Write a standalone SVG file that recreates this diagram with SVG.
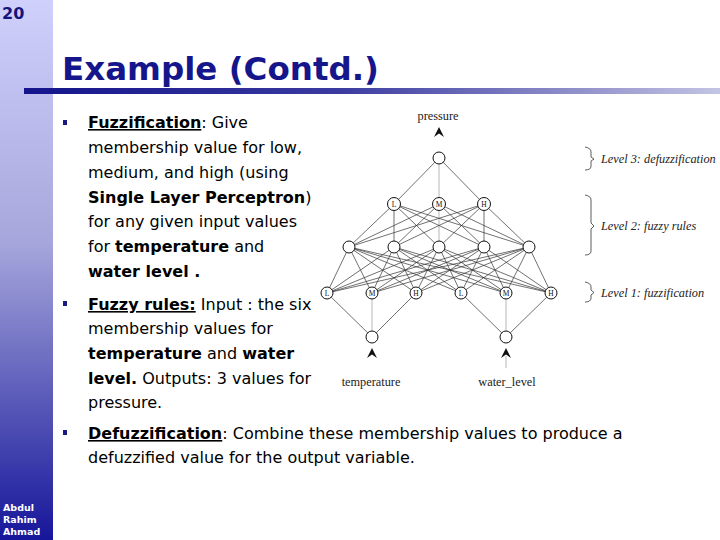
<svg xmlns="http://www.w3.org/2000/svg" width="720" height="540" viewBox="0 0 720 540">
<defs>
<linearGradient id="side" x1="0" y1="0" x2="0" y2="1">
<stop offset="0" stop-color="#d0d0fc"/>
<stop offset="0.45" stop-color="#a6a6dc"/>
<stop offset="1" stop-color="#16169a"/>
</linearGradient>
<linearGradient id="rule" x1="0" y1="0" x2="1" y2="0">
<stop offset="0" stop-color="#14148c"/>
<stop offset="0.45" stop-color="#3a3aa0"/>
<stop offset="1" stop-color="#c4c4e4"/>
</linearGradient>
</defs>
<style>
.body{font-family:"DejaVu Sans",sans-serif;font-size:16px;fill:#000}
.b{font-weight:bold}
.u{text-decoration:underline}
.net{font-family:"Liberation Serif",serif;fill:#222;font-size:12.3px;text-anchor:middle}
.lvl{font-family:"Liberation Serif",serif;font-style:italic;font-size:12.3px;fill:#222}
.lk line{stroke:#333;stroke-width:0.7}
.lk line.v{stroke:#999}
.nd circle{fill:#fff;stroke:#111;stroke-width:1}
.nd text{font-family:"Liberation Serif",serif;font-size:7.5px;text-anchor:middle;fill:#111}
.arr{fill:#111}
.brace{fill:none;stroke:#333;stroke-width:0.8}
.bul{fill:#1a1a80}
</style>
<rect width="720" height="540" fill="#fff"/>
<rect x="0" y="0" width="53" height="540" fill="url(#side)"/>
<rect x="24" y="88" width="696" height="6" fill="url(#rule)"/>
<text x="2" y="19" font-family="'DejaVu Sans',sans-serif" font-weight="bold" font-size="16" fill="#14147a">20</text>
<text x="62" y="80" font-family="'DejaVu Sans',sans-serif" font-weight="bold" font-size="32.5" fill="#16168c">Example (Contd.)</text>
<g font-family="'DejaVu Sans',sans-serif" font-weight="bold" font-size="9.5" fill="#fff">
<text x="3" y="511">Abdul</text>
<text x="3" y="523">Rahim</text>
<text x="3" y="535">Ahmad</text>
</g>

<rect class="bul" x="63" y="120" width="4" height="5"/>
<rect class="bul" x="63" y="301" width="4" height="5"/>
<rect class="bul" x="63" y="430" width="4" height="5"/>
<text class="body">
<tspan x="88" y="128"><tspan class="b u">Fuzzification</tspan>: Give</tspan>
<tspan x="88" y="153">membership value for low,</tspan>
<tspan x="88" y="178">medium, and high (using</tspan>
<tspan x="88" y="203"><tspan class="b">Single Layer Perceptron</tspan>)</tspan>
<tspan x="88" y="227">for any given input values</tspan>
<tspan x="88" y="252">for <tspan class="b">temperature</tspan> and</tspan>
<tspan x="88" y="277"><tspan class="b">water level .</tspan></tspan>
<tspan x="88" y="310"><tspan class="b u">Fuzzy rules:</tspan> Input : the six</tspan>
<tspan x="88" y="334">membership values for</tspan>
<tspan x="88" y="359"><tspan class="b">temperature</tspan> and <tspan class="b">water</tspan></tspan>
<tspan x="88" y="384"><tspan class="b">level.</tspan>  Outputs: 3 values for</tspan>
<tspan x="88" y="408">pressure.</tspan>
<tspan x="88" y="439"><tspan class="b u">Defuzzification</tspan>: Combine these membership values to produce a</tspan>
<tspan x="88" y="463">defuzzified value for the output variable.</tspan>
</text>

<g id="connectors" class="lk">
<line x1="439" y1="158" x2="394" y2="204"/><line class="v" x1="439" y1="158" x2="439" y2="204"/><line x1="439" y1="158" x2="484" y2="204"/>
<line x1="394" y1="204" x2="349" y2="247"/><line x1="394" y1="204" x2="394" y2="247"/><line x1="394" y1="204" x2="439" y2="247"/><line x1="394" y1="204" x2="484" y2="247"/><line x1="394" y1="204" x2="529" y2="247"/>
<line x1="439" y1="204" x2="349" y2="247"/><line x1="439" y1="204" x2="394" y2="247"/><line class="v" x1="439" y1="204" x2="439" y2="247"/><line x1="439" y1="204" x2="484" y2="247"/><line x1="439" y1="204" x2="529" y2="247"/>
<line x1="484" y1="204" x2="349" y2="247"/><line x1="484" y1="204" x2="394" y2="247"/><line x1="484" y1="204" x2="439" y2="247"/><line x1="484" y1="204" x2="484" y2="247"/><line x1="484" y1="204" x2="529" y2="247"/>
<line x1="349" y1="247" x2="327" y2="293"/><line x1="349" y1="247" x2="372" y2="293"/><line x1="349" y1="247" x2="416" y2="293"/><line x1="349" y1="247" x2="461" y2="293"/><line x1="349" y1="247" x2="506" y2="293"/><line x1="349" y1="247" x2="551" y2="293"/>
<line x1="394" y1="247" x2="327" y2="293"/><line x1="394" y1="247" x2="372" y2="293"/><line x1="394" y1="247" x2="416" y2="293"/><line x1="394" y1="247" x2="461" y2="293"/><line x1="394" y1="247" x2="506" y2="293"/><line x1="394" y1="247" x2="551" y2="293"/>
<line x1="439" y1="247" x2="327" y2="293"/><line x1="439" y1="247" x2="372" y2="293"/><line x1="439" y1="247" x2="416" y2="293"/><line x1="439" y1="247" x2="461" y2="293"/><line x1="439" y1="247" x2="506" y2="293"/><line x1="439" y1="247" x2="551" y2="293"/>
<line x1="484" y1="247" x2="327" y2="293"/><line x1="484" y1="247" x2="372" y2="293"/><line x1="484" y1="247" x2="416" y2="293"/><line x1="484" y1="247" x2="461" y2="293"/><line x1="484" y1="247" x2="506" y2="293"/><line x1="484" y1="247" x2="551" y2="293"/>
<line x1="529" y1="247" x2="327" y2="293"/><line x1="529" y1="247" x2="372" y2="293"/><line x1="529" y1="247" x2="416" y2="293"/><line x1="529" y1="247" x2="461" y2="293"/><line x1="529" y1="247" x2="506" y2="293"/><line x1="529" y1="247" x2="551" y2="293"/>
<line x1="372" y1="337" x2="327" y2="293"/><line class="v" x1="372" y1="337" x2="372" y2="293"/><line x1="372" y1="337" x2="416" y2="293"/>
<line x1="506" y1="337" x2="461" y2="293"/><line class="v" x1="506" y1="337" x2="506" y2="293"/><line x1="506" y1="337" x2="551" y2="293"/>
<line class="v" x1="506" y1="356" x2="506" y2="368"/>
</g>

<g id="out" class="nd"><circle cx="439" cy="158" r="6"/></g>
<g id="l3" class="nd">
<circle cx="394" cy="204" r="6.5"/><text x="394" y="206.7">L</text>
<circle cx="439" cy="204" r="6.5"/><text x="439" y="206.7">M</text>
<circle cx="484" cy="204" r="6.5"/><text x="484" y="206.7">H</text>
</g>
<g id="l2" class="nd">
<circle cx="349" cy="247" r="6"/><circle cx="394" cy="247" r="6"/><circle cx="439" cy="247" r="6"/><circle cx="484" cy="247" r="6"/><circle cx="529" cy="247" r="6"/>
</g>
<g id="l1" class="nd">
<circle cx="327" cy="293" r="6"/><text x="327" y="295.7">L</text>
<circle cx="372" cy="293" r="6"/><text x="372" y="295.7">M</text>
<circle cx="416" cy="293" r="6"/><text x="416" y="295.7">H</text>
<circle cx="461" cy="293" r="6"/><text x="461" y="295.7">L</text>
<circle cx="506" cy="293" r="6"/><text x="506" y="295.7">M</text>
<circle cx="551" cy="293" r="6"/><text x="551" y="295.7">H</text>
</g>
<g id="inputs" class="nd">
<circle cx="372" cy="337" r="6"/><circle cx="506" cy="337" r="6"/>
</g>

<path class="arr" d="M434 137 L439 127 L444 137 L439 133.5 Z"/>
<path class="arr" d="M367 358 L372 348 L377 358 L372 354.5 Z"/>
<path class="arr" d="M501 358 L506 348 L511 358 L506 354.5 Z"/>

<text class="net" x="438" y="120">pressure</text>
<text class="net" x="371" y="386">temperature</text>
<text class="net" x="507" y="386">water_level</text>

<path class="brace" d="M585 147 Q591 148 591 152 L591 157 L594 159 L591 161 L591 166 Q591 170 585 170"/>
<path class="brace" d="M585 195 Q591 196 591 200 L591 223 L594 226 L591 229 L591 251 Q591 255 585 255"/>
<path class="brace" d="M585 282 Q591 283 591 287 L591 290 L594 292.5 L591 295 L591 298 Q591 302 585 302"/>
<text class="lvl" x="601" y="163">Level 3: defuzzification</text>
<text class="lvl" x="601" y="230">Level 2: fuzzy rules</text>
<text class="lvl" x="601" y="297">Level 1: fuzzification</text>
</svg>
